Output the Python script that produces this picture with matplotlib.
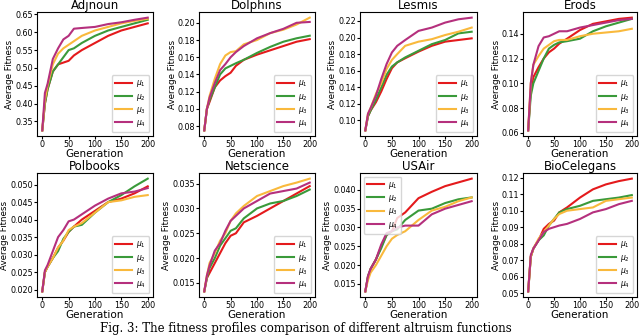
import matplotlib
matplotlib.use("Agg")
import matplotlib.pyplot as plt

gens = [0, 5, 10, 20, 30, 40, 50, 60, 75, 100, 125, 150, 175, 200]

labels = [r"$\mu_1$", r"$\mu_2$", r"$\mu_3$", r"$\mu_4$"]
colors = ["#e41a1c", "#3a9a3a", "#f9b93c", "#b5307d"]

adjnoun_mu1 = [0.325, 0.40, 0.44, 0.49, 0.51, 0.515, 0.52, 0.535, 0.55, 0.57, 0.59, 0.605, 0.615, 0.625]
adjnoun_mu2 = [0.325, 0.40, 0.44, 0.49, 0.51, 0.53, 0.55, 0.555, 0.57, 0.59, 0.605, 0.615, 0.625, 0.635]
adjnoun_mu3 = [0.325, 0.41, 0.45, 0.51, 0.54, 0.555, 0.565, 0.575, 0.59, 0.605, 0.615, 0.625, 0.632, 0.638]
adjnoun_mu4 = [0.325, 0.43, 0.455, 0.525, 0.555, 0.58, 0.59, 0.61, 0.612, 0.615, 0.623, 0.628, 0.635, 0.641]

dolphins_mu1 = [0.075, 0.10, 0.108, 0.125, 0.133, 0.138, 0.142, 0.15, 0.157, 0.163, 0.168, 0.173, 0.178, 0.181]
dolphins_mu2 = [0.075, 0.10, 0.11, 0.125, 0.14, 0.147, 0.150, 0.153, 0.157, 0.165, 0.172, 0.178, 0.182, 0.185]
dolphins_mu3 = [0.075, 0.10, 0.115, 0.135, 0.152, 0.162, 0.166, 0.167, 0.175, 0.18, 0.188, 0.192, 0.198, 0.206]
dolphins_mu4 = [0.075, 0.10, 0.113, 0.13, 0.145, 0.152, 0.16, 0.166, 0.173, 0.182, 0.188, 0.193, 0.2, 0.201]

lesmis_mu1 = [0.088, 0.105, 0.112, 0.122, 0.135, 0.150, 0.163, 0.170, 0.175, 0.183, 0.190, 0.195, 0.197, 0.199]
lesmis_mu2 = [0.088, 0.105, 0.112, 0.125, 0.14, 0.155, 0.165, 0.170, 0.176, 0.184, 0.192, 0.197, 0.205, 0.207]
lesmis_mu3 = [0.088, 0.108, 0.115, 0.132, 0.145, 0.162, 0.173, 0.18, 0.19, 0.195, 0.198, 0.203, 0.207, 0.212]
lesmis_mu4 = [0.088, 0.108, 0.115, 0.13, 0.15, 0.168, 0.182, 0.19, 0.197, 0.208, 0.212, 0.218, 0.222, 0.224]

erods_mu1 = [0.062, 0.095, 0.105, 0.113, 0.12, 0.125, 0.128, 0.132, 0.136, 0.143, 0.148, 0.15, 0.152, 0.153]
erods_mu2 = [0.062, 0.09, 0.10, 0.11, 0.12, 0.128, 0.131, 0.133, 0.134, 0.136, 0.142, 0.146, 0.149, 0.152]
erods_mu3 = [0.062, 0.10, 0.115, 0.122, 0.128, 0.131, 0.134, 0.135, 0.135, 0.138, 0.14, 0.141, 0.142, 0.144]
erods_mu4 = [0.062, 0.10, 0.115, 0.13, 0.137, 0.138, 0.14, 0.142, 0.142, 0.145, 0.147, 0.149, 0.151, 0.152]

polbooks_mu1 = [0.0195, 0.025, 0.0265, 0.029, 0.032, 0.034, 0.0365, 0.038, 0.040, 0.0425, 0.045, 0.046, 0.0475, 0.0495]
polbooks_mu2 = [0.0195, 0.025, 0.0265, 0.029, 0.031, 0.0345, 0.0365, 0.038, 0.0385, 0.042, 0.045, 0.047, 0.0495, 0.0517]
polbooks_mu3 = [0.0195, 0.025, 0.0265, 0.029, 0.032, 0.034, 0.037, 0.038, 0.039, 0.042, 0.045, 0.0455, 0.0465, 0.047]
polbooks_mu4 = [0.0195, 0.0255, 0.027, 0.031, 0.035, 0.037, 0.0395, 0.040, 0.0415, 0.044, 0.046, 0.0475, 0.048, 0.049]

netsci_mu1 = [0.0133, 0.016, 0.017, 0.019, 0.021, 0.023, 0.0245, 0.025, 0.0272, 0.0285, 0.030, 0.0315, 0.033, 0.0345]
netsci_mu2 = [0.0133, 0.016, 0.018, 0.020, 0.0225, 0.024, 0.0255, 0.026, 0.028, 0.030, 0.031, 0.0315, 0.0325, 0.0338]
netsci_mu3 = [0.0133, 0.0165, 0.019, 0.021, 0.0235, 0.025, 0.0275, 0.029, 0.0305, 0.0325, 0.0335, 0.0345, 0.0352, 0.036]
netsci_mu4 = [0.0133, 0.0165, 0.0185, 0.0215, 0.023, 0.0255, 0.0275, 0.0285, 0.030, 0.0315, 0.033, 0.0335, 0.034, 0.0352]

usair_mu1 = [0.013, 0.017, 0.019, 0.0215, 0.025, 0.028, 0.029, 0.0325, 0.034, 0.0378, 0.0395, 0.041, 0.042, 0.043]
usair_mu2 = [0.013, 0.017, 0.019, 0.0215, 0.0245, 0.028, 0.029, 0.0295, 0.032, 0.0345, 0.035, 0.0365, 0.0375, 0.038]
usair_mu3 = [0.013, 0.016, 0.018, 0.020, 0.0225, 0.025, 0.027, 0.028, 0.029, 0.032, 0.0345, 0.0355, 0.037, 0.038]
usair_mu4 = [0.013, 0.017, 0.019, 0.0215, 0.0255, 0.0285, 0.029, 0.030, 0.0305, 0.0305, 0.0335, 0.035, 0.036, 0.037]

celegans_mu1 = [0.051, 0.072, 0.077, 0.082, 0.089, 0.092, 0.094, 0.099, 0.102, 0.108, 0.113, 0.116, 0.118, 0.1195]
celegans_mu2 = [0.051, 0.072, 0.077, 0.082, 0.085, 0.091, 0.095, 0.099, 0.101, 0.103, 0.106, 0.107, 0.108, 0.1095]
celegans_mu3 = [0.051, 0.072, 0.077, 0.083, 0.087, 0.091, 0.095, 0.098, 0.1, 0.101, 0.102, 0.106, 0.107, 0.108]
celegans_mu4 = [0.051, 0.073, 0.077, 0.082, 0.087, 0.089, 0.09, 0.091, 0.092, 0.095, 0.099, 0.101, 0.104, 0.106]

panels = [
    ("Adjnoun", [adjnoun_mu1, adjnoun_mu2, adjnoun_mu3, adjnoun_mu4], "lower right", [0.35, 0.40, 0.45, 0.50, 0.55, 0.60, 0.65]),
    ("Dolphins", [dolphins_mu1, dolphins_mu2, dolphins_mu3, dolphins_mu4], "lower right", [0.08, 0.10, 0.12, 0.14, 0.16, 0.18, 0.20]),
    ("Lesmis", [lesmis_mu1, lesmis_mu2, lesmis_mu3, lesmis_mu4], "lower right", [0.10, 0.12, 0.14, 0.16, 0.18, 0.20, 0.22]),
    ("Erods", [erods_mu1, erods_mu2, erods_mu3, erods_mu4], "lower right", [0.06, 0.08, 0.10, 0.12, 0.14]),
    ("Polbooks", [polbooks_mu1, polbooks_mu2, polbooks_mu3, polbooks_mu4], "lower right", [0.020, 0.025, 0.030, 0.035, 0.040, 0.045, 0.050]),
    ("Netscience", [netsci_mu1, netsci_mu2, netsci_mu3, netsci_mu4], "lower right", [0.015, 0.020, 0.025, 0.030, 0.035]),
    ("USAir", [usair_mu1, usair_mu2, usair_mu3, usair_mu4], "upper left", [0.015, 0.020, 0.025, 0.030, 0.035, 0.040]),
    ("BioCelegans", [celegans_mu1, celegans_mu2, celegans_mu3, celegans_mu4], "lower right", [0.05, 0.06, 0.07, 0.08, 0.09, 0.10, 0.11, 0.12]),
]

# axes boxes in pixels (left, right, top, bottom) on a 640x335 canvas
col_px = [(37, 153), (199, 315), (360, 477), (523, 637)]
row_px = [(12, 136), (173, 297)]
W, H = 640, 335

fig = plt.figure(figsize=(6.4, 3.35), dpi=100)

for i, (title, series, loc, yticks) in enumerate(panels):
    (x0, x1), (y0, y1) = col_px[i % 4], row_px[i // 4]
    ax = fig.add_axes([x0 / W, 1 - y1 / H, (x1 - x0) / W, (y1 - y0) / H])
    for vals, lab, col in zip(series, labels, colors):
        ax.plot(gens, vals, color=col, lw=1.5, label=lab)
    ax.set_title(title, fontsize=8.5, pad=2)
    ax.set_xlabel("Generation", fontsize=7.5, labelpad=0)
    ax.set_ylabel("Average Fitness", fontsize=6.3, labelpad=0.5)
    ax.set_xticks([0, 50, 100, 150, 200])
    ax.set_yticks(yticks)
    ax.tick_params(labelsize=5.8, length=2, pad=1)
    ax.legend(loc=loc, fontsize=5.5, handlelength=2.2, labelspacing=0.3,
              borderpad=0.4, handletextpad=0.6)

fig.text(100 / W, 1 - 322 / H, "Fig. 3: The fitness profiles comparison of different altruism functions",
         family="DejaVu Serif", fontsize=8.5, va="top", ha="left")

fig.savefig("out.png", dpi=100)
